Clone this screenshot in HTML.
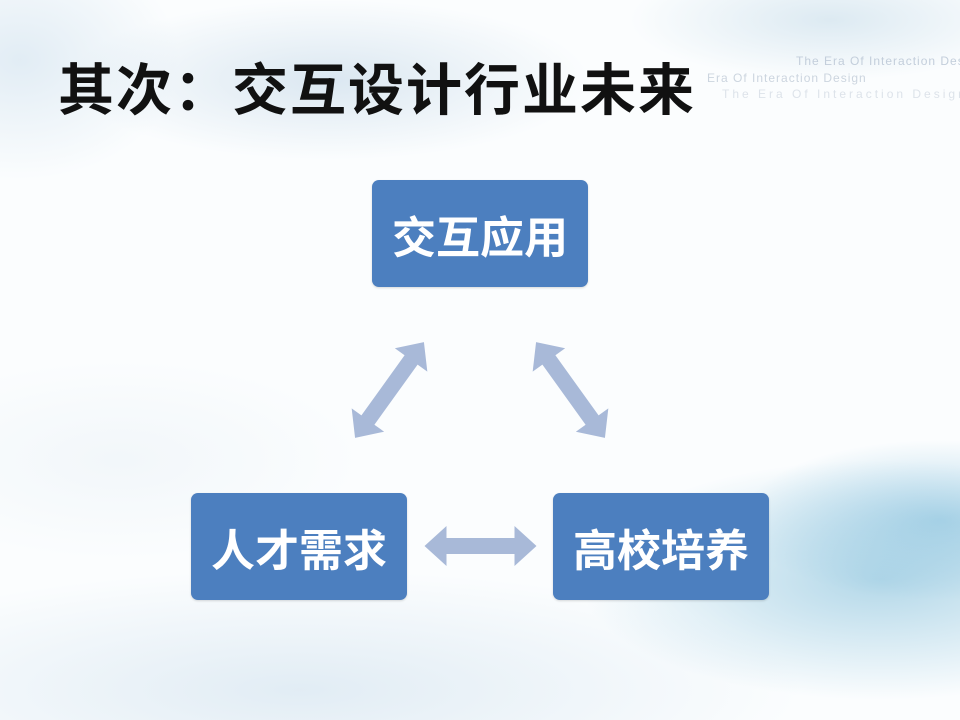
<!DOCTYPE html>
<html><head><meta charset="utf-8"><style>
html,body{margin:0;padding:0}
body{width:960px;height:720px;position:relative;overflow:hidden;background:#fbfdfe;font-family:"Liberation Sans","Noto Sans CJK SC",sans-serif}
.bg{position:absolute;inset:0;background:
radial-gradient(ellipse 260px 80px at 330px 80px,rgba(180,205,225,0.45),transparent),
radial-gradient(ellipse 200px 60px at 830px 20px,rgba(190,215,230,0.5),transparent),
radial-gradient(ellipse 300px 120px at 880px 580px,rgba(120,185,215,0.55),transparent),
radial-gradient(ellipse 200px 80px at 940px 520px,rgba(110,180,215,0.5),transparent),
radial-gradient(ellipse 500px 120px at 300px 690px,rgba(200,220,235,0.5),transparent),
radial-gradient(ellipse 160px 120px at 20px 60px,rgba(200,220,235,0.5),transparent),
radial-gradient(ellipse 240px 100px at 120px 460px,rgba(225,235,242,0.35),transparent);}
.title{position:absolute;left:58px;top:56px;font-size:56px;font-weight:bold;color:#111;letter-spacing:2px;line-height:70px;font-family:"Liberation Sans","Noto Sans CJK SC",sans-serif;white-space:nowrap}
.wm{position:absolute;font-size:12px;color:#c3cedb;white-space:nowrap;letter-spacing:1px}
.box{position:absolute;width:216px;height:107px;background:#4c7fbf;border-radius:7px;color:#fff;font-weight:bold;font-size:44px;display:flex;align-items:center;justify-content:center;box-shadow:0 1px 2px rgba(0,0,0,0.15)}
</style></head><body>
<div class="bg"></div>
<div class="wm" style="left:796px;top:54px">The Era Of Interaction Design</div>
<div class="wm" style="left:707px;top:71px;color:#ccd5df">Era Of Interaction Design</div>
<div class="wm" style="left:722px;top:87px;color:#dde3ea;letter-spacing:3px">The Era Of Interaction Design</div>
<div class="title">其次：交互设计行业未来</div>
<div class="box" style="left:372px;top:180px">交互应用</div>
<div class="box" style="left:191px;top:493px">人才需求</div>
<div class="box" style="left:553px;top:493px">高校培养</div>
<svg width="960" height="720" style="position:absolute;left:0;top:0">
<g fill="#a8b9d8">
<polygon transform="translate(389.5,390) rotate(-54.3)" points="-59,0 -37,-20 -37,-8 37,-8 37,-20 59,0 37,20 37,8 -37,8 -37,20"/>
<polygon transform="translate(570.5,390) rotate(54.3)" points="-59,0 -37,-20 -37,-8 37,-8 37,-20 59,0 37,20 37,8 -37,8 -37,20"/>
<polygon transform="translate(480.5,546)" points="-56,0 -34,-20 -34,-8 34,-8 34,-20 56,0 34,20 34,8 -34,8 -34,20"/>
</g></svg>
</body></html>
